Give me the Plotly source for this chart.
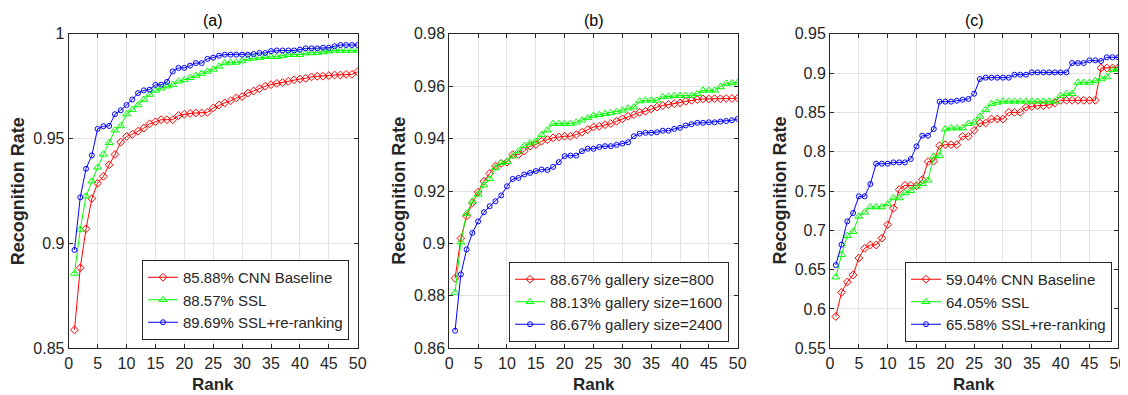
import plotly.graph_objects as go

ranks = list(range(1, 51))

# Panel (a)
a_cnn = [0.8588, 0.8884, 0.907, 0.9214, 0.9287, 0.932, 0.9375, 0.9424, 0.9483, 0.951,
         0.952, 0.9535, 0.955, 0.957, 0.958, 0.959, 0.959, 0.959, 0.961, 0.9616,
         0.962, 0.9622, 0.9622, 0.9625, 0.9646, 0.966, 0.967, 0.968, 0.9694, 0.970,
         0.9717, 0.9727, 0.9738, 0.975, 0.9757, 0.9763, 0.9767, 0.9773, 0.978, 0.9784,
         0.9787, 0.9794, 0.9797, 0.9797, 0.980, 0.9803, 0.9803, 0.9806, 0.9806, 0.9819]
a_ssl = [0.8857, 0.9067, 0.9225, 0.9297, 0.9363, 0.9425, 0.948, 0.954, 0.956, 0.9617,
         0.9638, 0.966, 0.9686, 0.971, 0.973, 0.974, 0.975, 0.9757, 0.9773, 0.978,
         0.979, 0.980, 0.981, 0.982, 0.983, 0.9844, 0.986, 0.9863, 0.9863, 0.987,
         0.988, 0.9883, 0.9886, 0.989, 0.989, 0.989, 0.9895, 0.990, 0.990, 0.990,
         0.9908, 0.9908, 0.991, 0.9913, 0.9917, 0.992, 0.992, 0.992, 0.992, 0.992]
a_rr = [0.8969, 0.922, 0.9356, 0.942, 0.9546, 0.9559, 0.956, 0.9616, 0.9635, 0.966,
        0.9686, 0.9717, 0.973, 0.9733, 0.9756, 0.9757, 0.977, 0.982, 0.9837, 0.9837,
        0.9848, 0.986, 0.986, 0.988, 0.9886, 0.9895, 0.990, 0.990, 0.990, 0.990,
        0.990, 0.9903, 0.9908, 0.9908, 0.9917, 0.992, 0.992, 0.992, 0.992, 0.9924,
        0.993, 0.993, 0.993, 0.9933, 0.9933, 0.994, 0.9946, 0.9946, 0.9946, 0.9946]

# Panel (b)
b_800 = [0.8867, 0.9019, 0.9104, 0.9155, 0.9196, 0.9237, 0.9267, 0.9295, 0.9305, 0.931,
         0.9339, 0.9339, 0.9352, 0.9371, 0.9377, 0.939, 0.9396, 0.9403, 0.9406, 0.9409,
         0.9409, 0.9415, 0.9424, 0.9434, 0.9444, 0.9447, 0.9453, 0.9457, 0.9466, 0.9475,
         0.9485, 0.9491, 0.950, 0.9504, 0.9513, 0.952, 0.9526, 0.953, 0.9533, 0.9536,
         0.9542, 0.9546, 0.9549, 0.9551, 0.9551, 0.9552, 0.9552, 0.9553, 0.9553, 0.9554]
b_1600 = [0.8813, 0.9005, 0.9114, 0.9161, 0.9187, 0.9222, 0.9246, 0.9288, 0.9307, 0.9312,
          0.9333, 0.9352, 0.9373, 0.9383, 0.939, 0.9415, 0.9432, 0.9457, 0.9457, 0.9457,
          0.9457, 0.9462, 0.947, 0.9479, 0.9488, 0.9491, 0.9495, 0.9498, 0.9503, 0.9508,
          0.9516, 0.952, 0.9543, 0.9546, 0.9546, 0.9546, 0.9559, 0.9561, 0.9564, 0.9564,
          0.9564, 0.9564, 0.9571, 0.9584, 0.9584, 0.9584, 0.9597, 0.961, 0.9612, 0.9615]
b_2400 = [0.8667, 0.8882, 0.8977, 0.904, 0.9084, 0.9119, 0.9142, 0.9161, 0.9183, 0.9218,
          0.9246, 0.925, 0.9263, 0.9269, 0.9276, 0.9282, 0.928, 0.9292, 0.931, 0.9333,
          0.9335, 0.9335, 0.9352, 0.9361, 0.9361, 0.9368, 0.9371, 0.9371, 0.9376, 0.9381,
          0.9386, 0.9409, 0.9419, 0.9422, 0.9422, 0.9424, 0.943, 0.943, 0.9437, 0.9441,
          0.945, 0.9455, 0.946, 0.946, 0.9462, 0.9462, 0.9465, 0.9467, 0.947, 0.9475]

# Panel (c)
c_cnn = [0.5904, 0.6212, 0.6343, 0.6432, 0.6648, 0.6771, 0.6814, 0.6814, 0.690, 0.7072,
         0.728, 0.7517, 0.7572, 0.7572, 0.7568, 0.7644, 0.7873, 0.7881, 0.8076, 0.8089,
         0.8089, 0.8089, 0.8195, 0.8195, 0.8271, 0.8364, 0.8364, 0.8415, 0.8415, 0.8415,
         0.850, 0.850, 0.850, 0.8564, 0.8576, 0.8585, 0.8585, 0.8597, 0.8619, 0.8653,
         0.8653, 0.8653, 0.8653, 0.8653, 0.8653, 0.8653, 0.9064, 0.9064, 0.9064, 0.9068]
c_ssl = [0.6405, 0.669, 0.6932, 0.6983, 0.7178, 0.7229, 0.7297, 0.7297, 0.7297, 0.7335,
         0.7411, 0.7411, 0.7475, 0.7504, 0.7559, 0.7593, 0.7636, 0.7941, 0.7949, 0.8288,
         0.830, 0.830, 0.830, 0.8356, 0.8373, 0.8449, 0.8534, 0.861, 0.8627, 0.864,
         0.864, 0.864, 0.864, 0.864, 0.864, 0.864, 0.864, 0.864, 0.864, 0.8712,
         0.8737, 0.8737, 0.888, 0.888, 0.888, 0.8902, 0.8924, 0.8949, 0.9042, 0.905]
c_rr = [0.6558, 0.6818, 0.7114, 0.722, 0.7432, 0.7432, 0.7589, 0.7847, 0.7847, 0.7847,
        0.7864, 0.7864, 0.7864, 0.7907, 0.8068, 0.8203, 0.8203, 0.8288, 0.8636, 0.8636,
        0.8636, 0.8648, 0.8661, 0.867, 0.8737, 0.8924, 0.8941, 0.8941, 0.8941, 0.8941,
        0.8941, 0.8979, 0.8979, 0.8979, 0.9008, 0.9008, 0.9008, 0.9008, 0.9008, 0.9008,
        0.9008, 0.9127, 0.9127, 0.9127, 0.9161, 0.9161, 0.9153, 0.920, 0.920, 0.920]

names_a = ["85.88% CNN Baseline", "88.57% SSL", "89.69% SSL+re-ranking"]
names_b = ["88.67% gallery size=800", "88.13% gallery size=1600", "86.67% gallery size=2400"]
names_c = ["59.04% CNN Baseline", "64.05% SSL", "65.58% SSL+re-ranking"]
titles = ["(a)", "(b)", "(c)"]

RED, GREEN, BLUE = "#ff0000", "#00ff00", "#0000ff"
styles = [
    dict(color=RED, symbol="diamond-open", size=6),
    dict(color=GREEN, symbol="triangle-up-open", size=7),
    dict(color=BLUE, symbol="circle-open", size=5),
]

FONT = "Liberation Sans, Arial, Helvetica, sans-serif"
TXT = "#262626"

# The page body has a default 8px margin, so the figure is drawn 8px in from
# the window corner; work in window pixels and convert.
OFF = 8
W, H = 1128 - OFF, 395 - OFF


def fx(px):
    return (px - OFF) / W


def fy(py):
    return 1 - (py - OFF) / H


panels = [
    ([a_cnn, a_ssl, a_rr], names_a, (68.7, 357.7), (0.85, 1.0), 0.05, (349.0, 340.0)),
    ([b_800, b_1600, b_2400], names_b, (449.3, 737.7), (0.86, 0.98), 0.02, (729.0, 342.0)),
    ([c_cnn, c_ssl, c_rr], names_c, (830.0, 1118.3), (0.55, 0.95), 0.05, (1112.0, 342.0)),
]
top_px, bot_px = 33.7, 348.3
ydom = [fy(bot_px), fy(top_px)]

fig = go.Figure()
layout = dict(
    width=W, height=H,
    margin=dict(l=0, r=0, t=0, b=0, autoexpand=False),
    paper_bgcolor="white", plot_bgcolor="white",
    font=dict(family=FONT, color=TXT, size=15),
    annotations=[],
)

for i, (series, names, (xl, xr), (y0, y1), dy, (lx, ly)) in enumerate(panels):
    k = "" if i == 0 else str(i + 1)
    leg = "legend" if i == 0 else "legend" + str(i + 1)
    for s, nm, st in zip(series, names, styles):
        fig.add_trace(go.Scatter(
            x=ranks, y=s, name=nm, mode="lines+markers",
            line=dict(color=st["color"], width=1),
            marker=dict(symbol=st["symbol"], size=st["size"], color=st["color"],
                        line=dict(color=st["color"], width=1)),
            xaxis="x" + k, yaxis="y" + k, legend=leg,
        ))
    axcommon = dict(showline=True, linecolor=TXT, linewidth=1, mirror="allticks",
                    ticks="inside", ticklen=4, tickcolor=TXT, automargin=False,
                    showgrid=True, gridcolor="#e3e3e3", gridwidth=1,
                    zeroline=False, tickfont=dict(family=FONT, size=16, color=TXT))
    layout["xaxis" + k] = dict(axcommon, domain=[fx(xl), fx(xr)], range=[0, 50],
                               tickmode="array", tickvals=list(range(0, 51, 5)),
                               anchor="y" + k)
    nt = int(round((y1 - y0) / dy))
    yt = [round(y0 + j * dy, 4) for j in range(nt + 1)]
    layout["yaxis" + k] = dict(axcommon, domain=ydom, range=[y0, y1],
                               tickmode="array", tickvals=yt,
                               ticktext=[("%g" % v) for v in yt],
                               anchor="x" + k)
    layout[leg] = dict(x=fx(lx), y=fy(ly), xanchor="right", yanchor="bottom",
                       xref="paper", yref="paper",
                       bgcolor="white", bordercolor=TXT, borderwidth=1,
                       font=dict(family=FONT, size=15, color=TXT),
                       traceorder="normal", itemwidth=30,
                       tracegroupgap=0)
    cx = fx((xl + xr) / 2)
    layout["annotations"] += [
        dict(text=titles[i], x=cx, y=fy(20), xref="paper", yref="paper",
             showarrow=False, font=dict(family=FONT, size=16, color="#000000"),
             xanchor="center", yanchor="middle"),
        dict(text="<b>Rank</b>", x=cx, y=fy(384.5), xref="paper", yref="paper",
             showarrow=False, font=dict(family=FONT, size=17, color=TXT),
             xanchor="center", yanchor="middle"),
        dict(text="<b>Recognition Rate</b>", x=fx(xl - 50.5), y=fy(191),
             xref="paper", yref="paper", textangle=-90,
             showarrow=False, font=dict(family=FONT, size=18, color=TXT),
             xanchor="center", yanchor="middle"),
    ]

fig.update_layout(**layout)
fig.write_html("out.html")
